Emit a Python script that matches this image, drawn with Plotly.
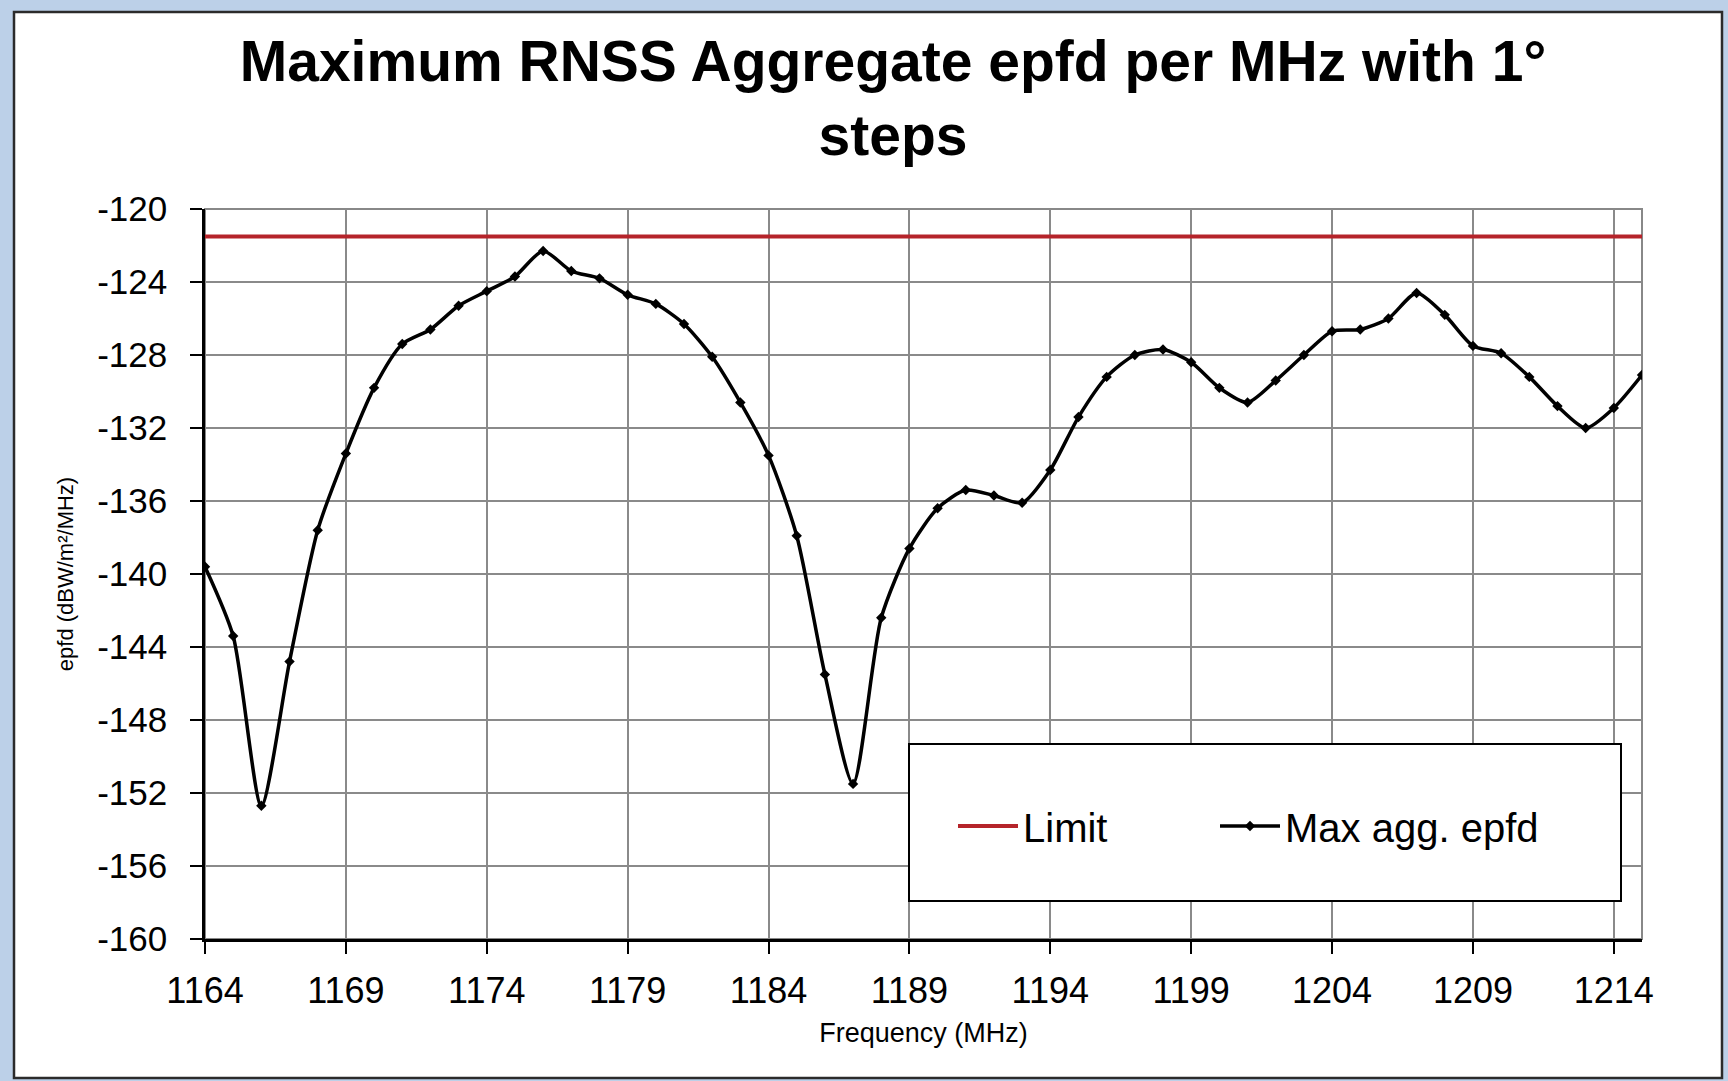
import plotly.graph_objects as go

# ---- data ----
freq_mhz = list(range(1164, 1216))
max_agg_epfd = [
    -139.6, -143.4, -152.7, -144.8, -137.6, -133.4, -129.8, -127.4, -126.6, -125.3,
    -124.5, -123.7, -122.3, -123.4, -123.8, -124.7, -125.2, -126.3, -128.1, -130.6,
    -133.5, -137.9, -145.5, -151.5, -142.4, -138.6, -136.4, -135.4, -135.7, -136.1,
    -134.3, -131.4, -129.2, -128.0, -127.7, -128.4, -129.8, -130.6, -129.4, -128.0,
    -126.7, -126.6, -126.0, -124.6, -125.8, -127.5, -127.9, -129.2, -130.8, -132.0,
    -130.9, -129.1,
]
limit_value = -121.5
limit_x = [1164, 1215]
limit_y = [limit_value, limit_value]

y_tick_vals = [-160, -156, -152, -148, -144, -140, -136, -132, -128, -124, -120]
y_tick_text = [str(v) for v in y_tick_vals]
x_tick_vals = [1164, 1169, 1174, 1179, 1184, 1189, 1194, 1199, 1204, 1209, 1214]

title_text = "Maximum RNSS Aggregate epfd per MHz with 1°<br>steps"
x_title = "Frequency (MHz)"
y_title = "epfd (dBW/m²/MHz)"

# ---- layout geometry (pixels) ----
W, H = 1728, 1081
L, R, T, B = 205, 1642, 209, 939


def px_x(p):
    return (p - L) / (R - L)


def px_y(p):
    return (B - p) / (B - T)


FONT = "Liberation Sans, Arial, sans-serif"

fig = go.Figure()
fig.add_trace(go.Scatter(
    x=limit_x, y=limit_y, mode="lines", name="Limit",
    line=dict(color="#b5242a", width=4), legend="legend",
))
fig.add_trace(go.Scatter(
    x=freq_mhz, y=max_agg_epfd, mode="lines+markers", name="Max agg. epfd",
    line=dict(color="black", width=3.5, shape="spline", smoothing=0.7),
    marker=dict(symbol="diamond", size=8, color="black"), legend="legend2",
))

shapes = [
    # outer white chart frame
    dict(type="rect", xref="paper", yref="paper", layer="below",
         x0=px_x(14), x1=px_x(1722), y0=px_y(1078), y1=px_y(12),
         fillcolor="white", line=dict(color="#2b2b2b", width=2.5)),
    # plot area border (gray)
    dict(type="rect", xref="paper", yref="paper", layer="below",
         x0=0, x1=1, y0=0, y1=1, line=dict(color="#888888", width=2)),
    # legend box
    dict(type="rect", xref="paper", yref="paper", layer="above",
         x0=px_x(909), x1=px_x(1621), y0=px_y(901), y1=px_y(744),
         fillcolor="white", line=dict(color="black", width=2)),
]

legend_common = dict(orientation="h", yanchor="middle", xanchor="left",
                     bgcolor="rgba(0,0,0,0)", borderwidth=0,
                     font=dict(family=FONT, size=40, color="black"),
                     itemwidth=60)

fig.update_layout(
    width=W, height=H,
    margin=dict(l=L, r=W - R, t=T, b=H - B, autoexpand=False),
    paper_bgcolor="#bcd0e8",
    plot_bgcolor="white",
    font=dict(family=FONT, color="black"),
    title=dict(text="<b>" + title_text.replace("<br>", "</b><br><b>") + "</b>",
               x=893 / W, xanchor="center", xref="container",
               y=1 - 81 / H, yanchor="top", yref="container",
               font=dict(family=FONT, size=57, color="black")),
    showlegend=True,
    legend=dict(x=px_x(953), y=px_y(826), **legend_common),
    legend2=dict(x=px_x(1215), y=px_y(826), **legend_common),
    shapes=shapes,
)

fig.update_xaxes(
    range=[1164, 1215], tickvals=x_tick_vals,
    showgrid=True, gridcolor="#8a8a8a", gridwidth=2,
    showline=True, linecolor="black", linewidth=2.5,
    ticks="outside", ticklen=12, tickwidth=2, tickcolor="black",
    tickfont=dict(family=FONT, size=36, color="black"),
    ticklabelstandoff=6,
    zeroline=False,
    title=dict(text=x_title, font=dict(family=FONT, size=27, color="black"), standoff=14),
)
fig.update_yaxes(
    range=[-160, -120], tickvals=y_tick_vals, ticktext=y_tick_text,
    showgrid=True, gridcolor="#8a8a8a", gridwidth=2,
    showline=True, linecolor="black", linewidth=2.5,
    ticks="outside", ticklen=12, tickwidth=2, tickcolor="black",
    tickfont=dict(family=FONT, size=35, color="black"),
    ticklabelstandoff=16,
    zeroline=False,
    title=dict(text=y_title, font=dict(family=FONT, size=22, color="black"), standoff=18),
)

fig.write_html(
    "out.html",
    config={"displayModeBar": False},
    post_script="document.body.style.margin='0px';document.body.style.background='#bcd0e8';",
)
